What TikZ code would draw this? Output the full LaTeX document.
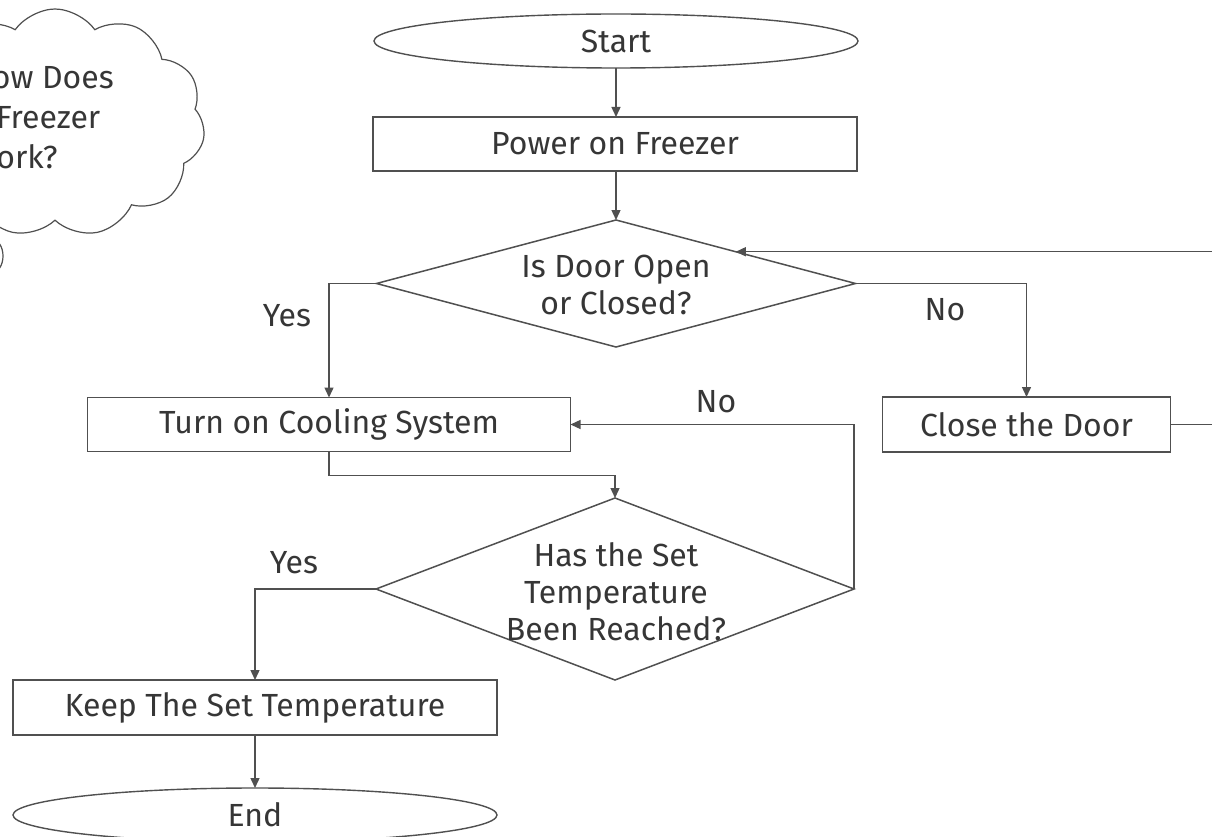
\documentclass[tikz,border=0pt]{standalone}
\usepackage{fontspec}
\setmainfont{Fira Sans}
\usetikzlibrary{shapes.geometric,shapes.symbols,arrows.meta,calc}
\definecolor{ln}{HTML}{505050}
\definecolor{tx}{HTML}{363636}
\begin{document}
\begin{tikzpicture}[x=1pt,y=-1pt,
  font=\fontsize{32}{37}\selectfont, text=tx,
  box/.style={draw=ln, line width=1.8pt, rectangle, inner sep=0pt, outer sep=0pt},
  dia/.style={draw=ln, line width=1.5pt, diamond, inner sep=0pt, outer sep=0pt},
  term/.style={draw=ln, line width=1.4pt, ellipse, inner sep=0pt, outer sep=0pt, minimum width=484pt, minimum height=54pt},
  lbl/.style={align=center, inner sep=0pt},
  conn/.style={draw=ln, line width=1.4pt},
  arr/.style={conn, -{Triangle[length=10pt,width=9pt]}}
]
\useasboundingbox (0,0) rectangle (1212,837);
\clip (0,0) rectangle (1212,837);
\fill[white] (0,0) rectangle (1212,837);

% thought cloud
\node[cloud, draw=ln, line width=1.2pt, cloud puffs=11, cloud puff arc=110, aspect=1.3,
      minimum width=300pt, minimum height=228pt, inner sep=0pt] (cloud) at (55,123) {};
\node[lbl, align=left, anchor=west, font=\fontsize{32}{40}\selectfont] (cloudtxt) at (-30,118) {How Does\\a Freezer\\Work?};
\node[ellipse, draw=ln, line width=1.2pt, minimum width=20pt, minimum height=32pt, inner sep=0pt] (bub) at (-7,256) {};

% main flow
\node[term] (start) at (616,41) {Start};
\node[box, minimum width=484pt, minimum height=54pt] (power) at (615,144) {Power on Freezer};
\node[dia, minimum width=479pt, minimum height=127pt] (d1) at (616,283.5) {};
\node[lbl] (d1txt) at (616,285) {Is Door Open\\or Closed?};
\node[box, minimum width=483pt, minimum height=54pt] (cool) at (329,424.5) {Turn on Cooling System};
\node[box, minimum width=288pt, minimum height=55pt] (close) at (1026.5,424.5) {Close the Door};
\node[dia, minimum width=478pt, minimum height=182pt] (d2) at (615,589) {};
\node[lbl] (d2txt) at (616,591.5) {Has the Set\\Temperature\\Been Reached?};
\node[box, minimum width=484pt, minimum height=55pt] (keep) at (255,707.5) {Keep The Set Temperature};
\node[term] (end) at (255,815) {End};

% labels
\node[lbl] (yes1) at (287,316) {Yes};
\node[lbl] (no1) at (945,310) {No};
\node[lbl] (no2) at (716,402) {No};
\node[lbl] (yes2) at (294,563) {Yes};

% connectors
\coordinate (offr) at (1240,0);
\coordinate (tip) at ($(d1.north)!0.5!(d1.east)$);
\draw[arr] (start.south) -- (start.south |- power.north);
\draw[arr] (power.south -| d1.north) -- (d1.north);
\draw[arr] (d1.west) -| (cool.north);
\draw[arr] (d1.east) -| (close.north);
\draw[arr] (close.east) -- (close.east -| offr) |- (tip);
\draw[arr] (cool.south) -- ++(0,24) -| (d2.north);
\draw[arr] (d2.east) |- (cool.east);
\draw[arr] (d2.west) -| (keep.north);
\draw[arr] (keep.south) -- (end.north);
\end{tikzpicture}
\end{document}
